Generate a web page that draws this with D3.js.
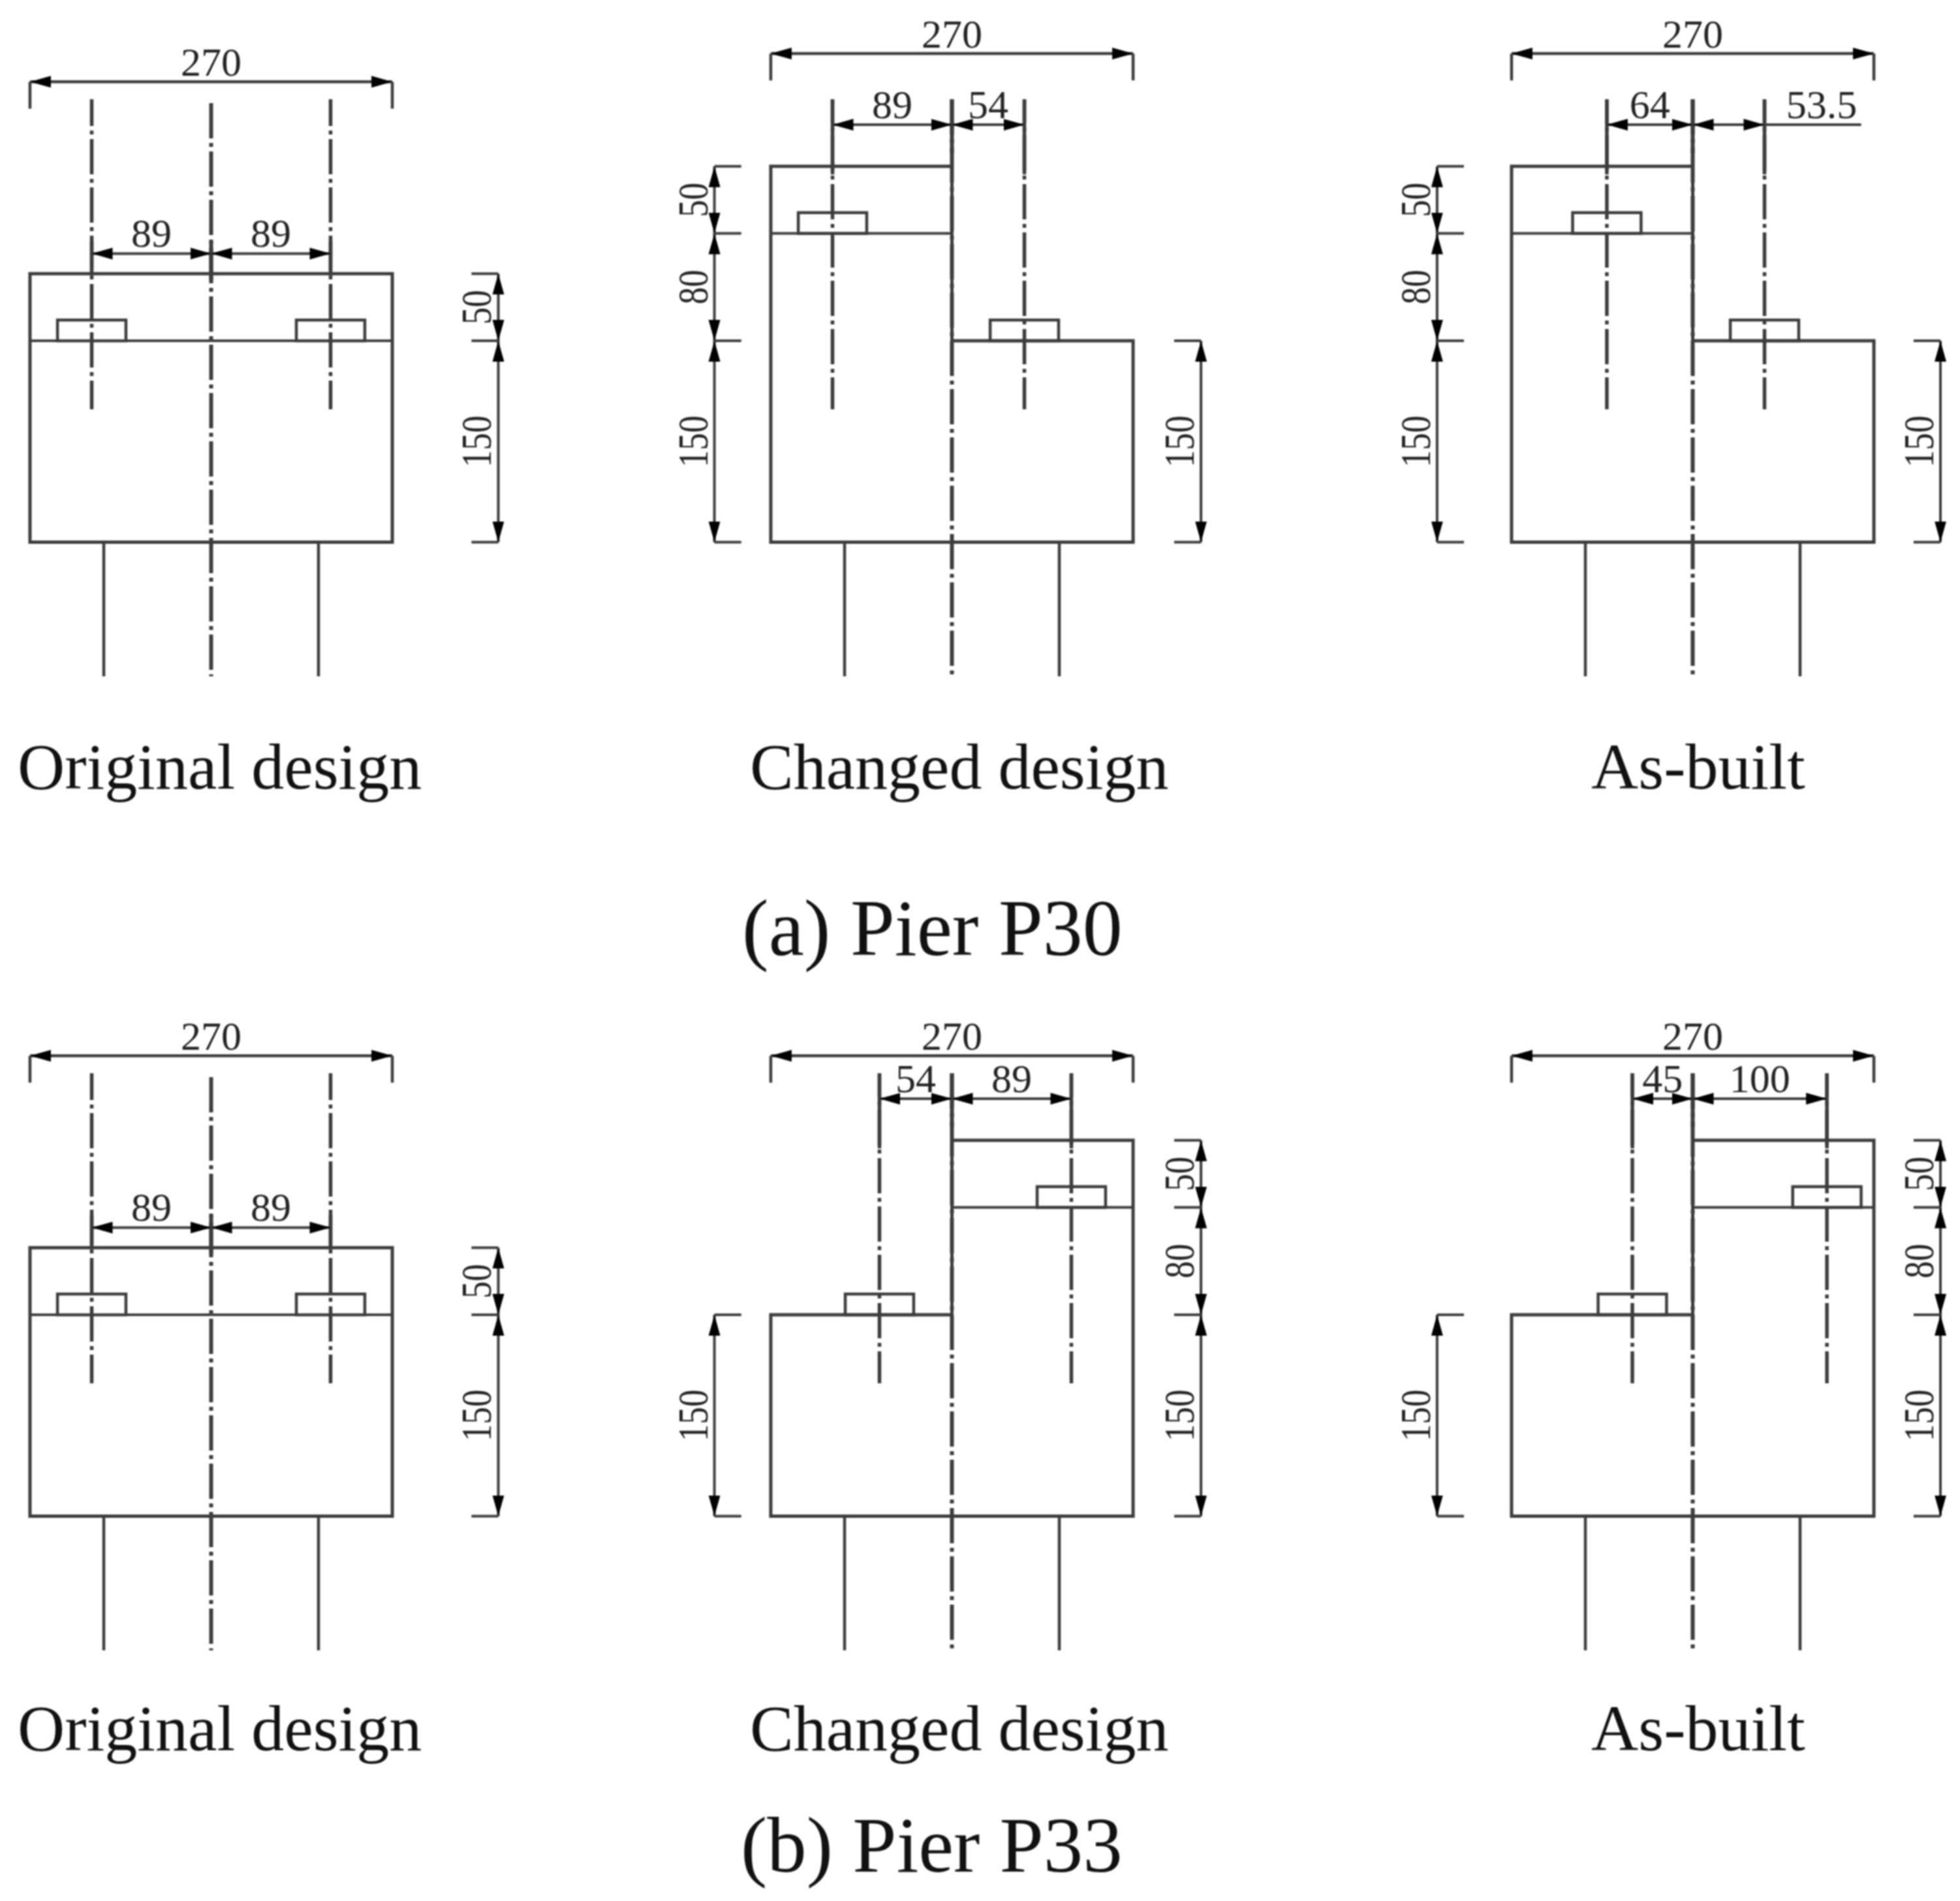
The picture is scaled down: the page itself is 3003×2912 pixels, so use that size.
<!DOCTYPE html>
<html>
<head>
<meta charset="utf-8">
<script src="https://cdnjs.cloudflare.com/ajax/libs/d3/7.8.5/d3.min.js"></script>
<style>
  html, body { margin: 0; background: #fff; }
  svg { display: block; filter: blur(1px); }
  text { font-family: "Liberation Serif", serif; }
</style>
</head>
<body>
<div id="chart"></div>
<script>
// Drawing values, all in cm as dimensioned on the piers. [pier][stage]
const stages = ["Original design", "Changed design", "As-built"];
const piers = ["(a) Pier P30", "(b) Pier P33"];

const topLeft = [[200, 280, 280], [200, 150, 150]];
const topRight = [[200, 150, 150], [200, 280, 280]];
const seatLeft = [[150, 230, 230], [150, 150, 150]];
const seatRight = [[150, 150, 150], [150, 230, 230]];

// bearing axis distance from the pier centre line
const axisLeft = [[89, 89, 64], [89, 54, 45]];
const axisRight = [[89, 54, 53.5], [89, 89, 100]];

// vertical dimension chains, bottom to top
const chainLeft = [[[], [150, 80, 50], [150, 80, 50]], [[], [150], [150]]];
const chainRight = [[[150, 50], [150], [150]], [[150, 50], [150, 80, 50], [150, 80, 50]]];

const overallWidth = 270;
const pileOffset = 80;
const pileLength = 100;
const bearingWidth = 51;
const bearingHeight = 15.5;

// page layout
const W = 3003, H = 2912;
const pxPerCm = 2.056;
const centreX = [323.5, 1458.5, 2593.5];
const baseY = [830.5, 2322.5];
const captionX = [27, 1149, 2438];
const captionY = [1208, 2681];
const titleX = [1137, 1135];
const titleY = [1463, 2867];

// heights / offsets of the annotation lines, same units as the drawing
const topDimLevel = [[343, 364, 364], [343, 343, 343]];
const innerDimLevel = [[215, 311, 311], [215, 311, 311]];
const chainLeftAt = [null, -177, -190.5];
const chainRightAt = [349 - 135, 185.6, 184.6];
const axisTop = 330, axisBottom = 99;
const tickLen = 20;

const ink = "#3c3c3c";

const svg = d3.select("#chart").append("svg")
  .attr("width", W)
  .attr("height", H)
  .attr("viewBox", `0 0 ${W} ${H}`);

svg.append("rect").attr("width", W).attr("height", H).attr("fill", "#fff");

// arrow head, tip on the end of the dimension line
svg.append("defs").append("marker")
  .attr("id", "arrow")
  .attr("markerUnits", "userSpaceOnUse")
  .attr("viewBox", "0 -10 32 20")
  .attr("refX", 32)
  .attr("refY", 0)
  .attr("markerWidth", 32)
  .attr("markerHeight", 20)
  .attr("orient", "auto-start-reverse")
  .append("path")
  .attr("d", "M0,-9L32,0L0,9Z")
  .attr("fill", "#000");

function drawPanel(g, p, s) {
  const x = d3.scaleLinear().domain([0, 1]).range([centreX[s], centreX[s] + pxPerCm]);
  const y = d3.scaleLinear().domain([0, 1]).range([baseY[p], baseY[p] - pxPerCm]);
  const half = overallWidth / 2;
  const line = d3.line().x(d => x(d[0])).y(d => y(d[1]));

  function seg(x1, y1, x2, y2, w, extra) {
    const l = g.append("line")
      .attr("x1", x(x1)).attr("y1", y(y1))
      .attr("x2", x(x2)).attr("y2", y(y2))
      .attr("stroke", ink)
      .attr("stroke-width", w);
    if (extra) extra(l);
    return l;
  }

  // pier outline
  g.append("path")
    .attr("d", line([
      [-half, 0], [-half, topLeft[p][s]], [0, topLeft[p][s]],
      [0, topRight[p][s]], [half, topRight[p][s]], [half, 0]
    ]) + "Z")
    .attr("fill", "none")
    .attr("stroke", ink)
    .attr("stroke-width", 5);

  // bearing seat lines
  if (seatLeft[p][s] < topLeft[p][s]) seg(-half, seatLeft[p][s], 0, seatLeft[p][s], 4);
  if (seatRight[p][s] < topRight[p][s]) seg(0, seatRight[p][s], half, seatRight[p][s], 4);

  // piles
  [-pileOffset, pileOffset].forEach(d => seg(d, 0, d, -pileLength, 4.5));

  const axes = [-axisLeft[p][s], axisRight[p][s]];
  const seats = [seatLeft[p][s], seatRight[p][s]];

  // bearings
  g.selectAll("rect.bearing")
    .data(axes)
    .enter()
    .append("rect")
    .attr("class", "bearing")
    .attr("x", d => x(d - bearingWidth / 2))
    .attr("y", (d, i) => y(seats[i] + bearingHeight))
    .attr("width", bearingWidth * pxPerCm)
    .attr("height", bearingHeight * pxPerCm)
    .attr("fill", "none")
    .attr("stroke", ink)
    .attr("stroke-width", 4.5);

  // centre lines, chain dotted
  const dash = "54 7 6 7";
  const orig = s === 0;
  axes.forEach(d => {
    seg(d, axisTop, d, axisBottom, 5.5, l => l
      .attr("stroke-dasharray", dash)
      .attr("stroke-dashoffset", orig ? 13 : 18));
    if (orig) seg(d, 224, d, 199, 5.5);
    else seg(d, axisTop, d, 274, 5.5);
  });
  seg(0, axisTop, 0, -pileLength, 6, l => l
    .attr("stroke-dasharray", dash)
    .attr("stroke-dashoffset", orig ? 68 : 0));
  if (orig) seg(0, 224, 0, 195, 6);
  else seg(0, axisTop, 0, 290, 6);

  // overall width dimension
  const topDim = topDimLevel[p][s];
  seg(-half, topDim, half, topDim, 4.5, arrows);
  seg(-half, topDim, -half, topDim - tickLen, 4.5);
  seg(half, topDim, half, topDim - tickLen, 4.5);
  label(0, topDim, overallWidth, 9);

  // distance of the bearings to the centre line
  const innerDim = innerDimLevel[p][s];
  axes.forEach(d => {
    seg(d, innerDim, 0, innerDim, 4, arrows);
    label(d / 2, innerDim, Math.abs(d), 10);
  });
  // 53.5 does not fit between the lines, it sits on an extended leader
  if (axes[1] === 53.5) {
    seg(axes[1], innerDim, 125.5, innerDim, 4);
    g.select("text.inner-last").attr("x", x(96));
  }

  // vertical chains
  drawChain(chainLeft[p][s], chainLeftAt[s], tickLen);
  drawChain(chainRight[p][s], chainRightAt[s], -tickLen);

  function arrows(l) {
    l.attr("marker-start", "url(#arrow)").attr("marker-end", "url(#arrow)");
  }

  function label(cx, level, value, gap) {
    g.selectAll("text.inner-last").classed("inner-last", false);
    g.append("text")
      .attr("class", "inner-last")
      .attr("x", x(cx))
      .attr("y", y(level) - gap)
      .attr("text-anchor", "middle")
      .attr("font-size", 62)
      .attr("fill", "#222")
      .text(value);
  }

  function drawChain(chain, at, tick) {
    if (!chain.length) return;
    const levels = [0, ...d3.cumsum(chain)];
    levels.forEach(v => seg(at, v, at + tick, v, 4));
    chain.forEach((v, i) => {
      seg(at, levels[i], at, levels[i + 1], 4, arrows);
      const ty = y((levels[i] + levels[i + 1]) / 2);
      g.append("text")
        .attr("transform", `translate(${x(at) - 11},${ty}) rotate(-90) scale(0.88,1.1)`)
        .attr("text-anchor", "middle")
        .attr("font-size", 60)
        .attr("fill", "#222")
        .text(v);
    });
  }
}

piers.forEach((pier, p) => {
  stages.forEach((stage, s) => {
    drawPanel(svg.append("g").attr("class", "panel"), p, s);
  });

  svg.append("g")
    .selectAll("text")
    .data(stages)
    .enter()
    .append("text")
    .attr("x", (d, i) => captionX[i])
    .attr("y", captionY[p])
    .attr("font-size", 100)
    .attr("fill", "#111")
    .text(d => d);

  svg.append("text")
    .attr("x", titleX[p])
    .attr("y", titleY[p])
    .attr("font-size", p === 0 ? 122 : 121)
    .attr("fill", "#111")
    .text(pier);
});
</script>
</body>
</html>
